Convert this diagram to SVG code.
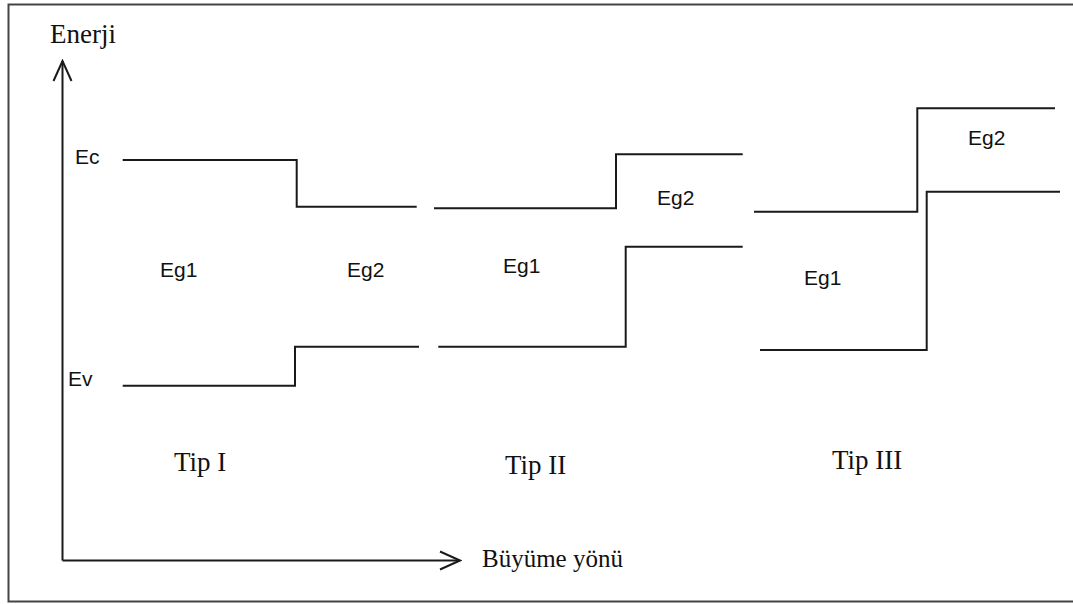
<svg xmlns="http://www.w3.org/2000/svg" width="1073" height="604" viewBox="0 0 1073 604">
<style>
.lvl{fill:none;stroke:#1a1a1a;stroke-width:2}
.ax{fill:none;stroke:#1a1a1a;stroke-width:2}
.serif{font-family:"Liberation Serif","Times New Roman",serif;font-size:25px;fill:#111}
.big{font-size:27px}
.sans{font-family:"Liberation Sans",Arial,sans-serif;font-size:21px;fill:#111}
</style>
<defs>
<marker id="open" viewBox="-22 -11 24 22" refX="0" refY="0" markerWidth="24" markerHeight="22" markerUnits="userSpaceOnUse" orient="auto">
<path d="M-20,-9 L0,0 L-20,9" fill="none" stroke="#1a1a1a" stroke-width="2"/>
</marker>
</defs>
<rect x="8.5" y="4.5" width="1070" height="597" fill="#fff" stroke="#444" stroke-width="2"/>
<g id="connectors">
<path class="ax" d="M62.5,560.5 V61" marker-end="url(#open)"/>
<path class="ax" d="M62.5,560.5 H460" marker-end="url(#open)"/>
</g>
<g id="axis-labels">
<text class="serif big" x="50" y="43">Enerji</text>
<text class="serif" x="482" y="567">Büyüme yönü</text>
<text class="sans" x="75" y="164">Ec</text>
<text class="sans" x="68" y="386">Ev</text>
</g>
<g id="tip1">
<path class="lvl" d="M122.7,160 H296.7 V206.7 H416.7"/>
<path class="lvl" d="M122.7,385.7 H295 V346.7 H419"/>
<text class="sans" x="160" y="277">Eg1</text>
<text class="sans" x="347" y="277">Eg2</text>
<text class="serif big" x="174" y="471">Tip I</text>
</g>
<g id="tip2">
<path class="lvl" d="M434,208.3 H616 V154.3 H742.7"/>
<path class="lvl" d="M438.3,346.7 H625.7 V246.7 H742.7"/>
<text class="sans" x="503" y="273">Eg1</text>
<text class="sans" x="657" y="205">Eg2</text>
<text class="serif big" x="505" y="474">Tip II</text>
</g>
<g id="tip3">
<path class="lvl" d="M754,211.7 H917.3 V108.3 H1055"/>
<path class="lvl" d="M760,350 H926.7 V191.7 H1060"/>
<text class="sans" x="804" y="285">Eg1</text>
<text class="sans" x="968" y="145">Eg2</text>
<text class="serif big" x="832" y="469">Tip III</text>
</g>
</svg>
